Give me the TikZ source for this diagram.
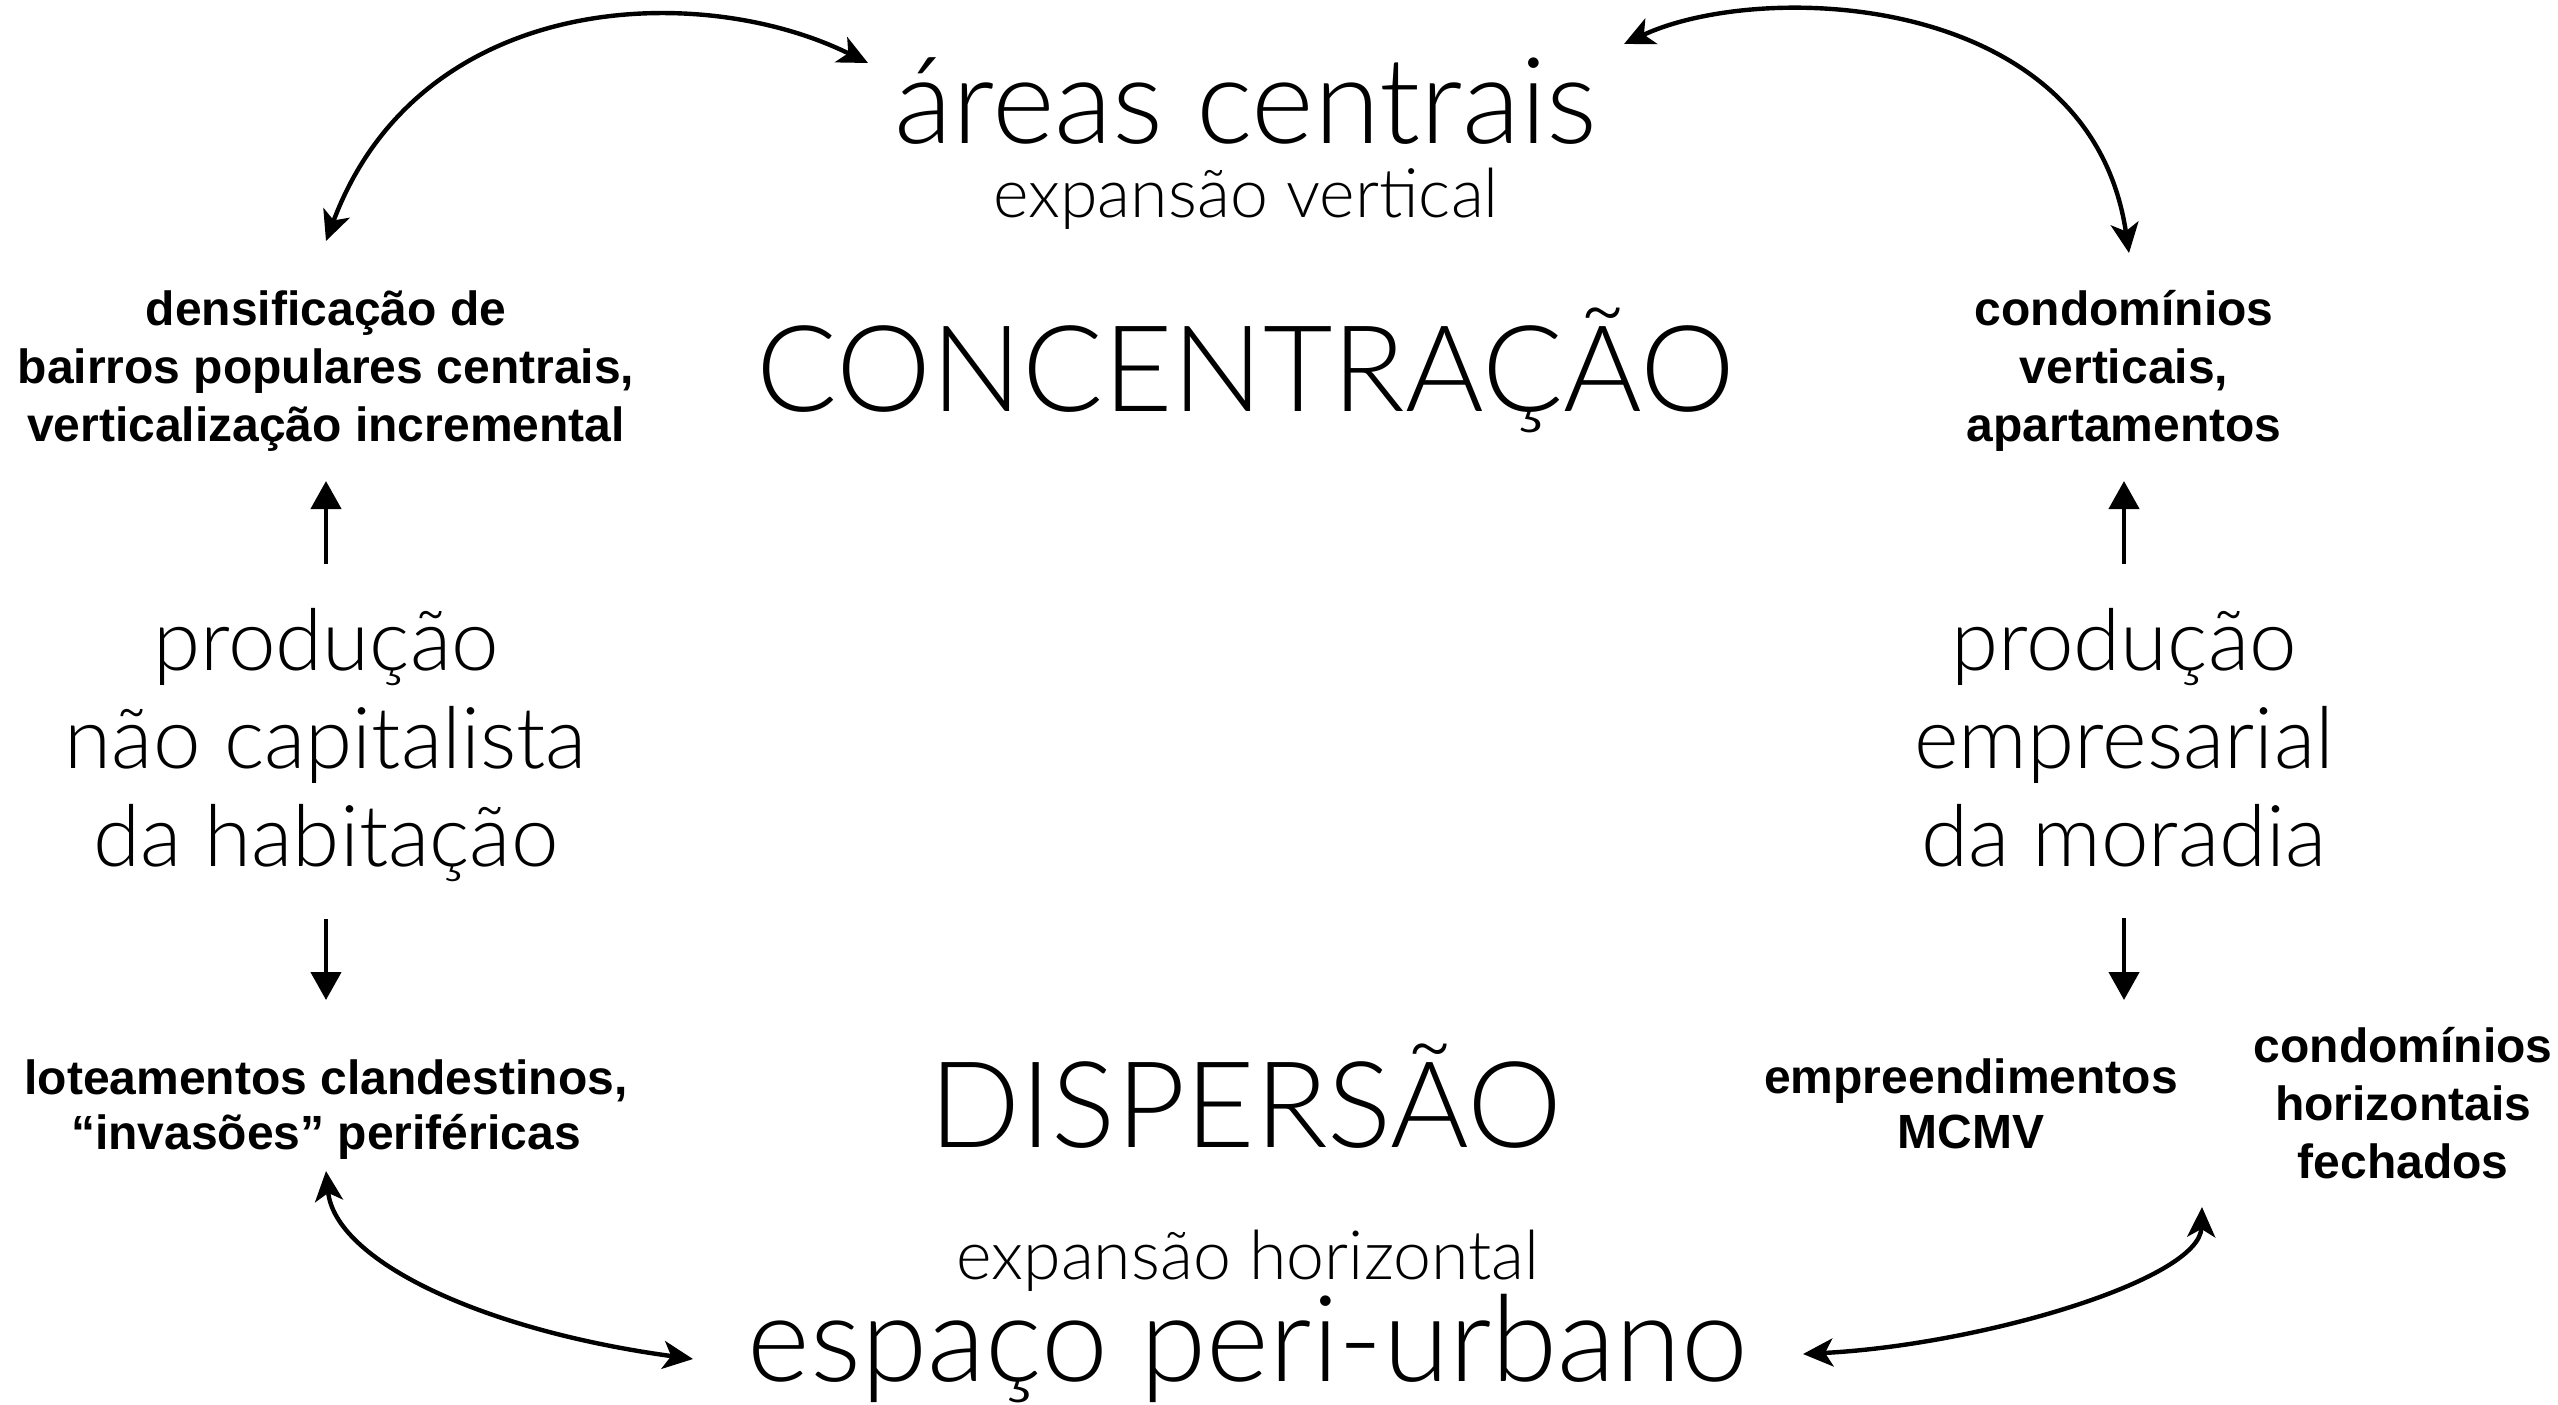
\documentclass[tikz,border=0pt]{standalone}
\usepackage{fontspec}
\setmainfont{Liberation Sans}
\newfontfamily\lightfont{Lato Light}
\usetikzlibrary{arrows.meta}
\begin{document}
\begin{tikzpicture}[x=0.5pt,y=-0.5pt,
  bigtxt/.style={inner sep=0pt, font=\lightfont\fontsize{60}{64}\selectfont},
  subtxt/.style={inner sep=0pt, font=\lightfont\fontsize{34}{38}\selectfont},
  midtxt/.style={inner sep=0pt, align=center, font=\lightfont\fontsize{42.7}{49}\selectfont},
  boldtxt/.style={inner sep=0pt, align=center, font=\bfseries\fontsize{24}{29}\selectfont},
  boldtwo/.style={inner sep=0pt, align=center, font=\bfseries\fontsize{24}{27.5}\selectfont},
  arr/.style={line width=2.2pt, -{Triangle[length=14pt,width=15pt]}},
  dbl/.style={line width=2.2pt, {Stealth[length=15pt,width=14pt,inset=4pt]}-{Stealth[length=15pt,width=14pt,inset=4pt]}}]
\fill[white] (0,0) rectangle (2558,1404);
\useasboundingbox (0,0) rectangle (2558,1404);
% central texts
\node[bigtxt, anchor=base] (areas) at (1246,143) {áreas centrais};
\node[subtxt, anchor=base] (expv) at (1246,217) {expansão vertical};
\node[bigtxt, anchor=base] (conc) at (1246,411) {CONCENTRAÇÃO};
\node[bigtxt, anchor=base] (disp) at (1246,1147) {DISPERSÃO};
\node[subtxt, anchor=base] (exph) at (1248,1279) {expansão horizontal};
\node[bigtxt, anchor=base] (peri) at (1248,1381) {espaço peri-urbano};
% left column
\node[boldtxt] (densL) at (326,371) {densificação de\\bairros populares centrais,\\verticalização incremental};
\node[midtxt] (prodL) at (326,745) {produção\\não capitalista\\da habitação};
\node[boldtwo] (loteL) at (326,1110) {loteamentos clandestinos,\\“invasões” periféricas};
% right column
\node[boldtxt] (condV) at (2124,371) {condomínios\\verticais,\\apartamentos};
\node[midtxt] (prodR) at (2124,738) {produção\\empresarial\\da moradia};
\node[boldtwo] (empR) at (1971,1104) {empreendimentos\\MCMV};
\node[boldtxt] (condH) at (2403,1103) {condomínios\\horizontais\\fechados};
% straight arrows
\coordinate (luTip) at (326,481);
\coordinate (ldTip) at (326,1000);
\coordinate (ruTip) at (2124,481);
\coordinate (rdTip) at (2124,1000);
\draw[arr] ([yshift=22pt]prodL.north) -- (luTip);
\draw[arr] ([yshift=-18.5pt]prodL.south) -- (ldTip);
\draw[arr] ([yshift=22pt]prodR.north) -- (ruTip);
\draw[arr] ([yshift=-25pt]prodR.south) -- (rdTip);
% curved arrows
\coordinate (tlA) at (326,241);
\coordinate (tlB) at (868,63);
\draw[dbl] (tlA) .. controls (420,-10) and (700,-20) .. (tlB);
\coordinate (trA) at (1624,44);
\coordinate (trB) at (2129,253);
\draw[dbl] (trA) .. controls (1760,-20) and (2090,-10) .. (trB);
\coordinate (blA) at (326,1171);
\coordinate (blB) at (693,1359);
\draw[dbl] (blA) .. controls (335,1260) and (480,1330) .. (blB);
\coordinate (brA) at (1803,1354);
\coordinate (brB) at (2202,1207);
\draw[dbl] (brB) .. controls (2200,1280) and (1980,1345) .. (brA);
\end{tikzpicture}
\end{document}
